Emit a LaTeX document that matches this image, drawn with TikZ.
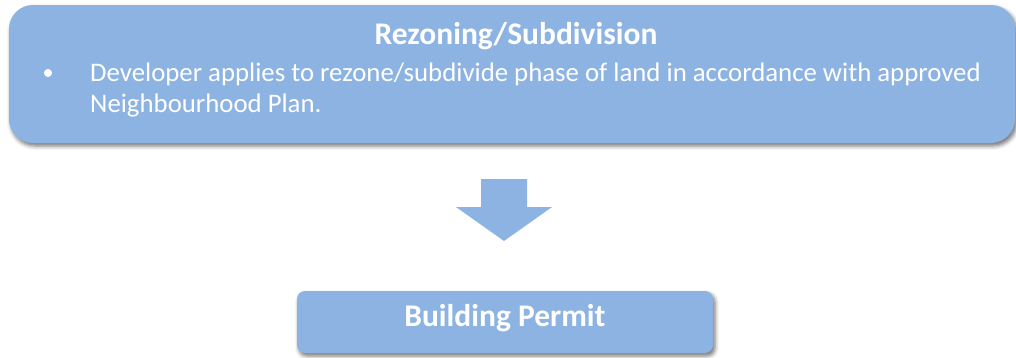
\documentclass[tikz,border=0pt]{standalone}
\usepackage{fontspec}
\setmainfont{Carlito}
\usetikzlibrary{shadows.blur}
\definecolor{boxblue}{HTML}{8DB3E2}
\tikzset{
  box/.style={fill=boxblue, draw=none, blur shadow={shadow xshift=2pt, shadow yshift=-3pt, shadow blur radius=4pt, shadow opacity=55}},
  title/.style={text=white, font=\fontsize{31.5}{36}\selectfont\bfseries, inner sep=0pt},
  body/.style={text=white, font=\fontsize{26.8}{31}\selectfont, anchor=base west, inner sep=0pt},
}
\begin{document}
\begin{tikzpicture}[x=1pt,y=-1pt]
\useasboundingbox (0,0) rectangle (1016,357);
\node[box, rounded corners=24pt, minimum width=1006pt, minimum height=138pt, inner sep=0pt] (top) at (512,74) {};
\node[title, anchor=base] (t1) at (516,44) {Rezoning/Subdivision};
\node[circle, fill=white, inner sep=0pt, minimum size=8pt] (bul) at (48,73) {};
\node[body] (l1) at (90,81) {Developer applies to rezone/subdivide phase of land in accordance with approved};
\node[body] (l2) at (90,112) {Neighbourhood Plan.};
\fill[boxblue] (481,179) -- (527,179) -- (527,207) -- (552,207) -- (504,241) -- (456,207) -- (481,207) -- cycle;
\node[box, rounded corners=8pt, minimum width=416pt, minimum height=62pt, inner sep=0pt] (bot) at (505,322) {};
\node[title, anchor=base] (t2) at (505,326) {Building Permit};
\end{tikzpicture}
\end{document}
